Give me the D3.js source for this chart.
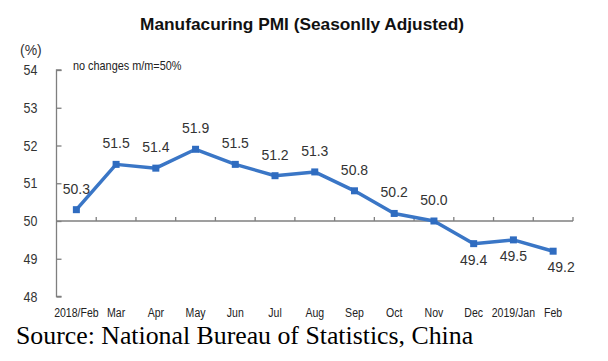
<!DOCTYPE html>
<html>
<head>
<meta charset="utf-8">
<script src="https://cdn.jsdelivr.net/npm/d3@7"></script>
<style>
  body { margin: 0; background: #fff; }
  svg { display: block; }
  text { font-family: "Liberation Sans", Arial, sans-serif; }
</style>
</head>
<body>
<div id="chart"></div>
<script>
// monthly PMI, seasonally adjusted
var months = ["2018/Feb", "Mar", "Apr", "May", "Jun", "Jul", "Aug", "Sep", "Oct", "Nov", "Dec", "2019/Jan", "Feb"];
var pmi = [50.3, 51.5, 51.4, 51.9, 51.5, 51.2, 51.3, 50.8, 50.2, 50.0, 49.4, 49.5, 49.2];
var labelSide = ["above", "above", "above", "above", "above", "above", "above", "above", "above", "above", "below", "below", "below"];
var yTicks = [48, 49, 50, 51, 52, 53, 54];

var width = 608, height = 361;
var svg = d3.select('#chart').append('svg').attr('width', width).attr('height', height);

var x = d3.scaleBand().domain(months).range([56.5, 573]);
var y = d3.scaleLinear().domain([48, 54]).range([296.5, 70]);

// narrow text: squeeze horizontally since no condensed font is around
function narrow(sel, sx) {
    sel.attr('transform', function () {
        var t = d3.select(this);
        var tx = +t.attr('x'), ty = +t.attr('y');
        t.attr('x', 0).attr('y', 0);
        return 'translate(' + tx + ',' + ty + ') scale(' + sx + ',1)';
    });
}

svg.append('text').attr('x', 302).attr('y', 30).attr('text-anchor', 'middle')
    .style('font-weight', 'bold').style('font-size', '17.3px').style('fill', '#111')
    .text('Manufacuring PMI (Seasonlly Adjusted)');

svg.append('text').attr('x', 20).attr('y', 55)
    .style('font-size', '14px').style('fill', '#333')
    .text('(%)');

svg.append('text').attr('x', 73).attr('y', 70)
    .style('font-size', '12.5px').style('fill', '#222')
    .text('no changes m/m=50%').call(narrow, 0.87);

// y axis, ticks pointing inward
var yAxis = d3.axisRight(y).tickValues(yTicks).tickSize(5).tickFormat(d3.format('d'));
var gy = svg.append('g').attr('transform', 'translate(' + x.range()[0] + ',0)').call(yAxis);
gy.select('.domain').attr('d', 'M5,' + y(54) + 'H0V' + y(48) + 'H5').attr('stroke', '#7f7f7f').attr('stroke-width', 1.3);
gy.selectAll('.tick line').attr('stroke', '#7f7f7f').attr('stroke-width', 1.3);
gy.selectAll('.tick text').attr('x', 0).attr('text-anchor', 'end')
    .style('font-size', '14.5px').style('fill', '#333')
    .attr('transform', 'translate(-19,0) scale(0.86,1)');

// 50 line as the category axis
var bounds = months.map(function (m) { return x(m) + x.bandwidth(); });
svg.append('line').attr('x1', x.range()[0]).attr('x2', x.range()[1]).attr('y1', y(50)).attr('y2', y(50))
    .attr('stroke', '#7f7f7f').attr('stroke-width', 1.3);
svg.selectAll('.xtick').data(bounds).enter().append('line').attr('class', 'xtick')
    .attr('x1', function (d) { return d; }).attr('x2', function (d) { return d; })
    .attr('y1', y(50)).attr('y2', y(50) - 4)
    .attr('stroke', '#7f7f7f').attr('stroke-width', 1.3);

// month labels below plot
svg.selectAll('.xlab').data(months).enter().append('text').attr('class', 'xlab')
    .attr('x', function (d) { return x(d) + x.bandwidth() / 2; })
    .attr('y', 317).attr('text-anchor', 'middle')
    .style('font-size', '13.5px').style('fill', '#222')
    .text(function (d) { return d; })
    .call(narrow, 0.78);

var line = d3.line()
    .x(function (d, i) { return x(months[i]) + x.bandwidth() / 2; })
    .y(function (d) { return y(d); });

svg.append('path').datum(pmi).attr('d', line)
    .attr('fill', 'none').attr('stroke', '#3a76c6').attr('stroke-width', 3.5).attr('stroke-linejoin', 'round');

svg.selectAll('.pt').data(pmi).enter().append('rect').attr('class', 'pt')
    .attr('x', function (d, i) { return x(months[i]) + x.bandwidth() / 2 - 3.5; })
    .attr('y', function (d) { return y(d) - 3.5; })
    .attr('width', 7).attr('height', 7).attr('fill', '#2f6cc0');

svg.selectAll('.vl').data(pmi).enter().append('text').attr('class', 'vl')
    .attr('x', function (d, i) { return x(months[i]) + x.bandwidth() / 2 + (i == 12 ? 8 : 0); })
    .attr('y', function (d, i) { return labelSide[i] == 'above' ? y(d) - 16 : y(d) + 21; })
    .attr('text-anchor', 'middle')
    .style('font-size', '14px').style('fill', '#333')
    .text(function (d) { return d.toFixed(1); });

svg.append('text').attr('x', 16).attr('y', 344)
    .style('font-family', '"Liberation Serif", "Times New Roman", serif').style('font-size', '25.8px').style('fill', '#000')
    .text('Source: National Bureau of Statistics, China');
</script>
</body>
</html>
